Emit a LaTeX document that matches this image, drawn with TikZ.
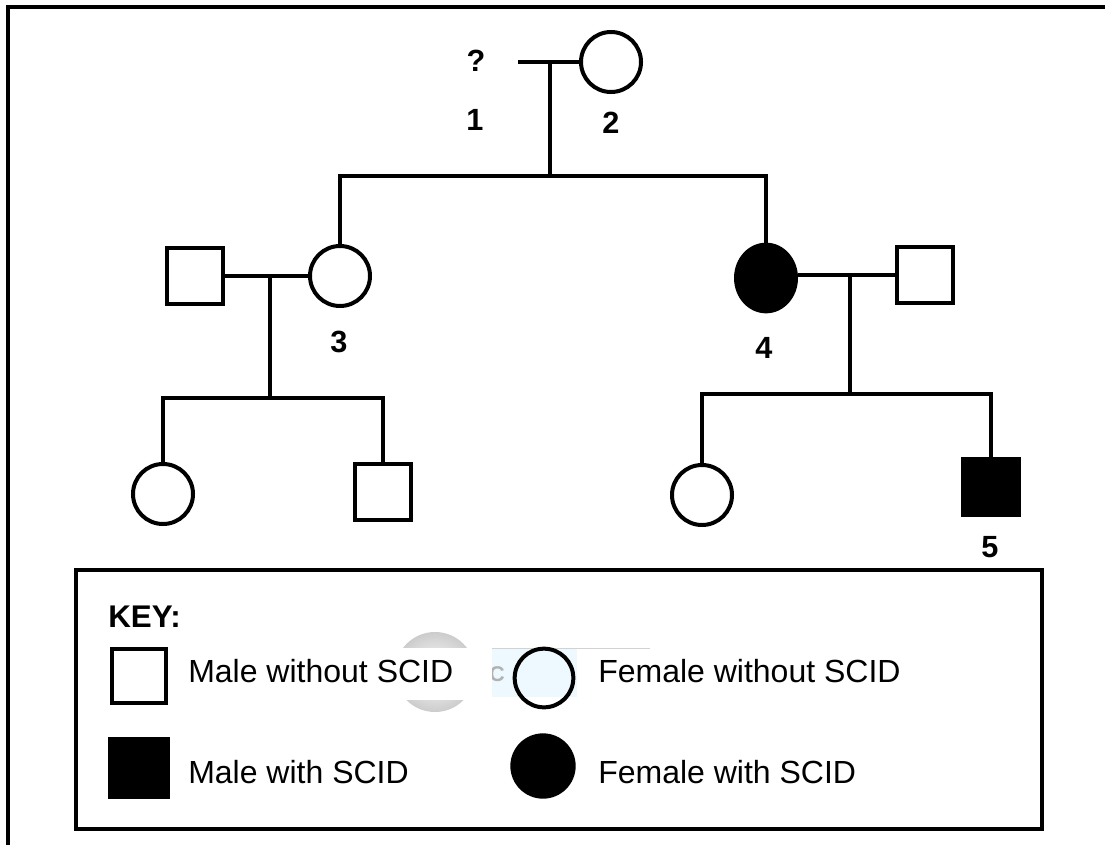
\documentclass[tikz,border=0pt]{standalone}
\usepackage{fontspec}
\setmainfont{Liberation Sans}
\usetikzlibrary{shapes.geometric}
\newcommand\colorLine{black}
\newcommand\colorAffected{black}
\newcommand\colorMark{gray}
\newcommand\lineWidth{3pt}
\newcommand\maleSize{42pt}
\newcommand\femaleSize{45pt}
\tikzset{
	pedline/.style={draw=\colorLine, line width=\lineWidth},
	male/.style={rectangle, pedline, minimum size=\maleSize, inner sep=0pt},
	female/.style={circle, pedline, minimum size=\femaleSize, inner sep=0pt},
	affected/.style={fill=\colorAffected},
	num/.style={font=\bfseries\fontsize{23}{26}\selectfont, anchor=base, inner sep=0pt},
	keytext/.style={font=\fontsize{24}{28}\selectfont, anchor=base west, inner sep=0pt},
}

\begin{document}
\begin{tikzpicture}[x=0.75pt, y=-0.75pt]
	\useasboundingbox (0,0) rectangle (1105,845);
	\draw[pedline] (8,845) -- (8,7) -- (1105,7);
	
	% generation I
	\node[num] (q1) at (476,72) {?};
	\node[num] (n1) at (475,131) {1};
	\coordinate (c1) at (518,62);
	\node[female] (i2) at (611,62) {};
	\node[num] (n2) at (611,133) {2};
	\coordinate (m1) at (550,62);
	\coordinate (s1) at (550,176);
	\draw[pedline] (c1) -- (i2);
	\draw[pedline] (m1) -- (s1);
	
	% generation II
	\node[male] (h3) at (195,276) {};
	\node[female] (i3) at (340,276) {};
	\node[num] (n3) at (339,352) {3};
	\node[female, ellipse, minimum width=45pt, minimum height=50pt, affected] (i4) at (766,278) {};
	\node[male] (h4) at (925,275) {};
	\node[num] (n4) at (764,358) {4};
	\draw[pedline] (i3.north) |- (s1) -| (i4.north);
	\draw[pedline] (h3) -- (i3);
	\draw[pedline] (h4.west) -- (h4.west -| i4.east);
	\coordinate (m3) at (270,276);
	\coordinate (s3) at (270,398);
	\draw[pedline] (m3) -- (s3);
	\coordinate (m4) at (850,275);
	\coordinate (s4) at (850,394);
	\draw[pedline] (m4) -- (s4);
	
	% generation III
	\node[female] (d3) at (163,494) {};
	\node[male] (b3) at (383,492) {};
	\draw[pedline] (d3.north) |- (s3) -| (b3.north);
	\node[female] (d4) at (702,495) {};
	\node[male, affected] (i5) at (991,487) {};
	\node[num] (n5) at (990,557) {5};
	\draw[pedline] (d4.north) |- (s4) -| (i5.north);
	
	% key
	\draw[pedline] (76,570) rectangle (1042,829);
	\node[keytext, font=\bfseries\fontsize{23.5}{28}\selectfont] (keyhead) at (108,627) {KEY:};
	\shade[inner color=white, outer color=\colorMark!40] (435,672) circle[radius=30pt];
	\fill[cyan!7] (492,648) rectangle (577,697);
	\draw[\colorMark!35, line width=0.75pt] (470,648) -- (650,648);
	\node[text=\colorMark!60, font=\bfseries\fontsize{16}{18}\selectfont] (wm) at (497,674) {C};
	\fill[white] (180,648) rectangle (492,700);
	\node[male, minimum size=41pt] (kmale) at (139,676) {};
	\node[keytext] (tmale) at (188,682) {Male without SCID};
	\node[female, minimum size=44pt] (kfemale) at (544,678) {};
	\node[keytext] (tfemale) at (598,682) {Female without SCID};
	\node[male, affected, minimum size=43pt] (kmaleA) at (139,768) {};
	\node[keytext] (tmaleA) at (188,783) {Male with SCID};
	\node[female, affected, minimum size=46pt] (kfemaleA) at (543,766) {};
	\node[keytext] (tfemaleA) at (598,783) {Female with SCID};
\end{tikzpicture}
\end{document}
